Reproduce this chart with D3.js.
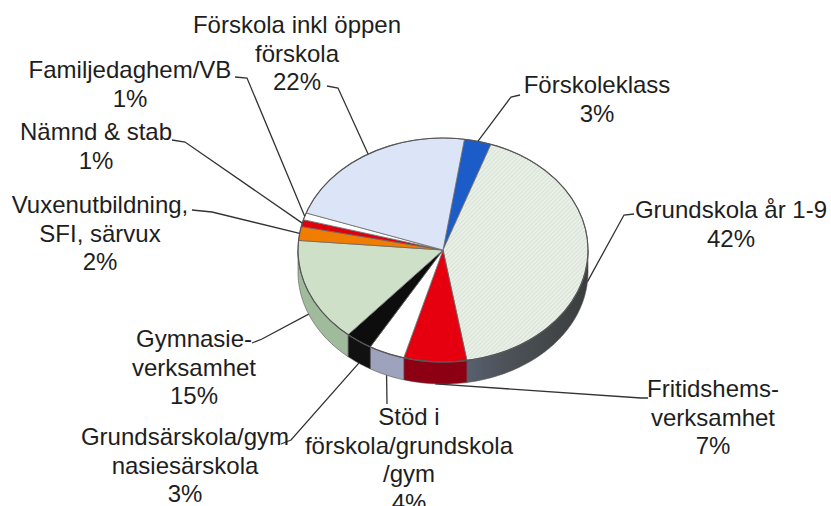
<!DOCTYPE html>
<html>
<head>
<meta charset="utf-8">
<script src="https://cdn.jsdelivr.net/npm/d3@7"></script>
<style>
  body { margin: 0; background: #fff; }
  text { font-family: "Liberation Sans", Arial, sans-serif; fill: #1e1e1e; }
</style>
</head>
<body>
<svg id="pie" width="831" height="506"></svg>
<script>
// values, clockwise from the top
var categories = ["Förskoleklass", "Grundskola år 1-9", "Fritidshemsverksamhet",
    "Stöd i förskola/grundskola/gym", "Grundsärskola/gymnasiesärskola",
    "Gymnasieverksamhet", "Vuxenutbildning, SFI, särvux", "Nämnd & stab",
    "Familjedaghem/VB", "Förskola inkl öppen förskola"];
var shares = [3, 42, 7, 4, 3, 15, 2, 1, 1, 22];
var labelLines = [["Förskoleklass"], ["Grundskola år 1-9"], ["Fritidshems-", "verksamhet"],
    ["Stöd i", "förskola/grundskola", "/gym"], ["Grundsärskola/gym", "nasiesärskola"],
    ["Gymnasie-", "verksamhet"], ["Vuxenutbildning,", "SFI, särvux"], ["Nämnd & stab"],
    ["Familjedaghem/VB"], ["Förskola inkl öppen", "förskola"]];

// styling / layout
var topColors = ["#1b5cc9", "url(#hatch)", "#e6000f", "#ffffff", "#0d0d0d",
    "#cfe0c9", "#f07d00", "#e0000d", "#ffffff", "#dce5f7"];
var sideColors = ["#1b4a9a", "url(#sideGrad)", "#8d0013", "#9ea2bd", "#111111",
    "#9fbb9b", "#b05a00", "#900010", "#cccccc", "#aab4c8"];
// label: center x, first baseline, leader start and bend
var labelPos = [
    {x: 597, y: 93, start: [520, 95], bend: [511, 97]},
    {x: 731, y: 218, start: [634, 214], bend: [624, 215]},
    {x: 713, y: 397, start: [648, 398], bend: [641, 398]},
    {x: 409, y: 425, start: [387, 404], bend: [387, 404]},
    {x: 185, y: 445, start: [281, 444], bend: [291, 440]},
    {x: 194, y: 347, start: [252, 343], bend: [262, 339]},
    {x: 100, y: 213, start: [192, 210], bend: [212, 212]},
    {x: 96, y: 140, start: [172, 140], bend: [185, 142]},
    {x: 130, y: 78, start: [235, 77], bend: [247, 78]},
    {x: 297, y: 33, start: [327, 86], bend: [338, 88]}
];
var lineHeight = 28.5;

var svg = d3.select("#pie"),
    cx = 443, cy = 250, rx = 145, ry = 112, depth = 22;

var defs = svg.append("defs");
var hatch = defs.append("pattern")
    .attr("id", "hatch")
    .attr("patternUnits", "userSpaceOnUse")
    .attr("width", 3).attr("height", 3)
    .attr("patternTransform", "rotate(45)");
hatch.append("rect").attr("width", 3).attr("height", 3).attr("fill", "#e9f0e7");
hatch.append("line").attr("x1", 0).attr("y1", 0).attr("x2", 0).attr("y2", 3)
    .attr("stroke", "#c9d5c6").attr("stroke-width", 1);

var sg = defs.append("linearGradient").attr("id", "sideGrad")
    .attr("gradientUnits", "userSpaceOnUse")
    .attr("x1", cx - 20).attr("x2", cx + rx).attr("y1", 0).attr("y2", 0);
sg.append("stop").attr("offset", 0).attr("stop-color", "#66708a");
sg.append("stop").attr("offset", 0.5).attr("stop-color", "#4c5258");
sg.append("stop").attr("offset", 1).attr("stop-color", "#3a3e3e");

var pie = d3.pie().sort(null).value(function (d) { return d; })
    .startAngle(8.5 * Math.PI / 180)
    .endAngle(8.5 * Math.PI / 180 + 2 * Math.PI);
var arcs = pie(shares);

function ex(a) { return cx + rx * Math.sin(a); }
function ey(a) { return cy - ry * Math.cos(a); }

var edge = d3.line().x(function (p) { return p[0]; }).y(function (p) { return p[1]; });

function sidePath(a0, a1) {
    var lo = Math.max(a0, Math.PI / 2), hi = Math.min(a1, 3 * Math.PI / 2);
    if (hi <= lo) return null;
    var n = Math.max(2, Math.ceil((hi - lo) / 0.02)), pts = [], i, a;
    for (i = 0; i <= n; i++) { a = lo + (hi - lo) * i / n; pts.push([ex(a), ey(a)]); }
    for (i = n; i >= 0; i--) { a = lo + (hi - lo) * i / n; pts.push([ex(a), ey(a) + depth]); }
    return edge(pts) + "Z";
}

function topPath(a0, a1) {
    var n = Math.max(2, Math.ceil((a1 - a0) / 0.02)), pts = [[cx, cy]];
    for (var i = 0; i <= n; i++) { var a = a0 + (a1 - a0) * i / n; pts.push([ex(a), ey(a)]); }
    return edge(pts) + "Z";
}

// sides
svg.append("g").selectAll("path")
    .data(arcs.filter(function (d) { return sidePath(d.startAngle, d.endAngle); }))
    .enter().append("path")
    .attr("d", function (d) { return sidePath(d.startAngle, d.endAngle); })
    .attr("fill", function (d) { return sideColors[d.index]; })
    .attr("stroke", "#555")
    .attr("stroke-width", 0.6);

// top faces
svg.append("g").selectAll("path")
    .data(arcs)
    .enter().append("path")
    .attr("d", function (d) { return topPath(d.startAngle, d.endAngle); })
    .attr("fill", function (d) { return topColors[d.index]; })
    .attr("stroke", "#6a6a6a")
    .attr("stroke-width", 0.8)
    .attr("stroke-linejoin", "round");

// outer rim
svg.append("ellipse")
    .attr("cx", cx).attr("cy", cy).attr("rx", rx).attr("ry", ry)
    .attr("fill", "none").attr("stroke", "#555").attr("stroke-width", 1.1);

// leader lines
svg.append("g").selectAll("path")
    .data(arcs)
    .enter().append("path")
    .attr("d", function (d) {
        var m = (d.startAngle + d.endAngle) / 2,
            front = Math.cos(m) < 0,
            end = [ex(m), ey(m) + (front ? depth : 0)],
            p = labelPos[d.index];
        return edge([p.start, p.bend, end]);
    })
    .attr("fill", "none")
    .attr("stroke", "#333")
    .attr("stroke-width", 1.3);

// labels
var labels = svg.append("g").selectAll("text")
    .data(arcs)
    .enter().append("text")
    .attr("text-anchor", "middle")
    .attr("font-size", 24)
    .attr("x", function (d) { return labelPos[d.index].x; })
    .attr("y", function (d) { return labelPos[d.index].y; });

labels.each(function (d) {
    var t = d3.select(this), p = labelPos[d.index];
    labelLines[d.index].concat([shares[d.index] + "%"]).forEach(function (s, i) {
        t.append("tspan").attr("x", p.x).attr("dy", i === 0 ? 0 : lineHeight).text(s);
    });
});
</script>
</body>
</html>
